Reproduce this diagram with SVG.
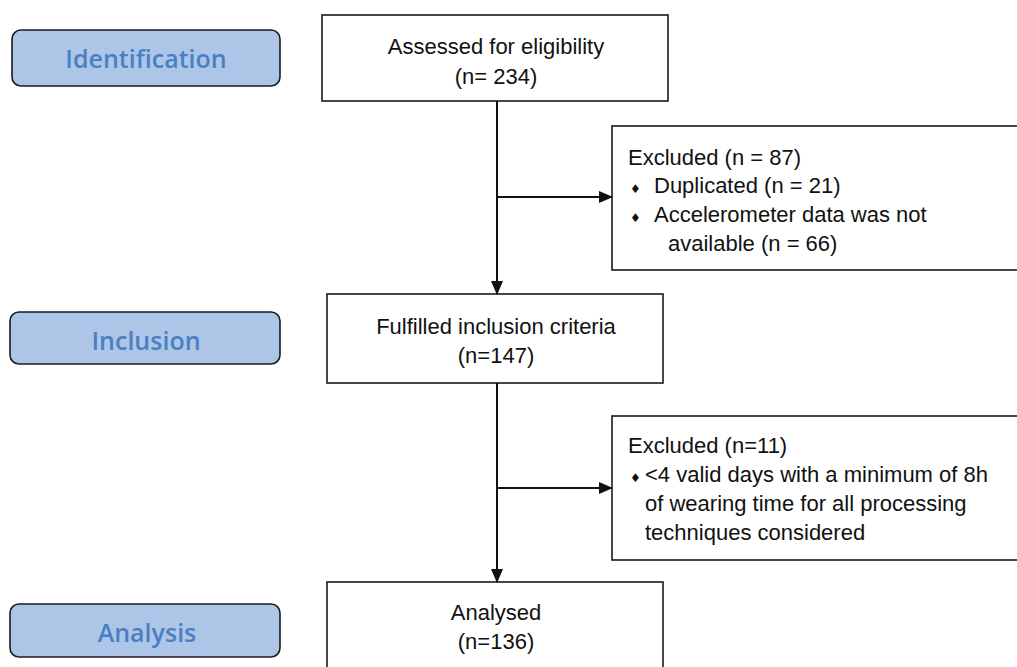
<svg xmlns="http://www.w3.org/2000/svg" width="1017" height="667" viewBox="0 0 1017 667">
<style>
.stage{fill:#adc6e8;stroke:#1a1a1a;stroke-width:1.6}
.stxt{font-family:"Open Sans","Noto Sans",sans-serif;font-weight:600;font-size:25px;fill:#4a80c2;text-anchor:middle}
.box{fill:#fff;stroke:#1a1a1a;stroke-width:1.6}
.t{font-family:"Liberation Sans",Arial,sans-serif;font-size:22px;fill:#111}
.c{text-anchor:middle}
.b{font-family:"DejaVu Sans",sans-serif;font-size:12px}
.ln{stroke:#111;stroke-width:2;fill:none}
</style>
<defs>
<marker id="ah" markerWidth="14" markerHeight="12" refX="13" refY="6" orient="auto" markerUnits="userSpaceOnUse">
<path d="M0,0 L14,6 L0,12 Z" fill="#111"/>
</marker>
</defs>
<g id="stage-identification"><rect class="stage" x="12" y="30" width="268" height="56" rx="9"/><text class="stxt" x="146" y="68">Identification</text></g>
<g id="stage-inclusion"><rect class="stage" x="10" y="312" width="270" height="52" rx="9"/><text class="stxt" x="146" y="350">Inclusion</text></g>
<g id="stage-analysis"><rect class="stage" x="10" y="604" width="270" height="53" rx="9"/><text class="stxt" x="147" y="642">Analysis</text></g>
<g id="assessed"><rect class="box" x="322" y="15" width="346" height="86"/><text class="t c" x="496" y="54">Assessed for eligibility</text><text class="t c" x="496" y="84">(n= 234)</text></g>
<g id="excluded1"><rect class="box" x="612" y="126" width="420" height="144"/>
<text class="t" x="628" y="165">Excluded (n = 87)</text>
<text class="t" x="630" y="193"><tspan class="b">♦</tspan><tspan x="654">Duplicated (n = 21)</tspan></text>
<text class="t" x="630" y="222"><tspan class="b">♦</tspan><tspan x="654">Accelerometer data was not</tspan></text>
<text class="t" x="668" y="251">available (n = 66)</text></g>
<g id="fulfilled"><rect class="box" x="327" y="294" width="336" height="89"/><text class="t c" x="496" y="334">Fulfilled inclusion criteria</text><text class="t c" x="496" y="363">(n=147)</text></g>
<g id="excluded2"><rect class="box" x="612" y="416" width="420" height="144"/>
<text class="t" x="628" y="453">Excluded (n=11)</text>
<text class="t" x="630" y="482"><tspan class="b">♦</tspan><tspan x="645">&lt;4 valid days with a minimum of 8h</tspan></text>
<text class="t" x="645" y="511">of wearing time for all processing</text>
<text class="t" x="645" y="540">techniques considered</text></g>
<g id="analysed"><rect class="box" x="327" y="582" width="336" height="100"/><text class="t c" x="496" y="620">Analysed</text><text class="t c" x="496" y="649">(n=136)</text></g>
<g id="connectors">
<line class="ln" x1="497" y1="101" x2="497" y2="294" marker-end="url(#ah)"/>
<line class="ln" x1="497" y1="197" x2="612" y2="197" marker-end="url(#ah)"/>
<line class="ln" x1="497" y1="383" x2="497" y2="582" marker-end="url(#ah)"/>
<line class="ln" x1="497" y1="488" x2="612" y2="488" marker-end="url(#ah)"/>
</g>
</svg>
